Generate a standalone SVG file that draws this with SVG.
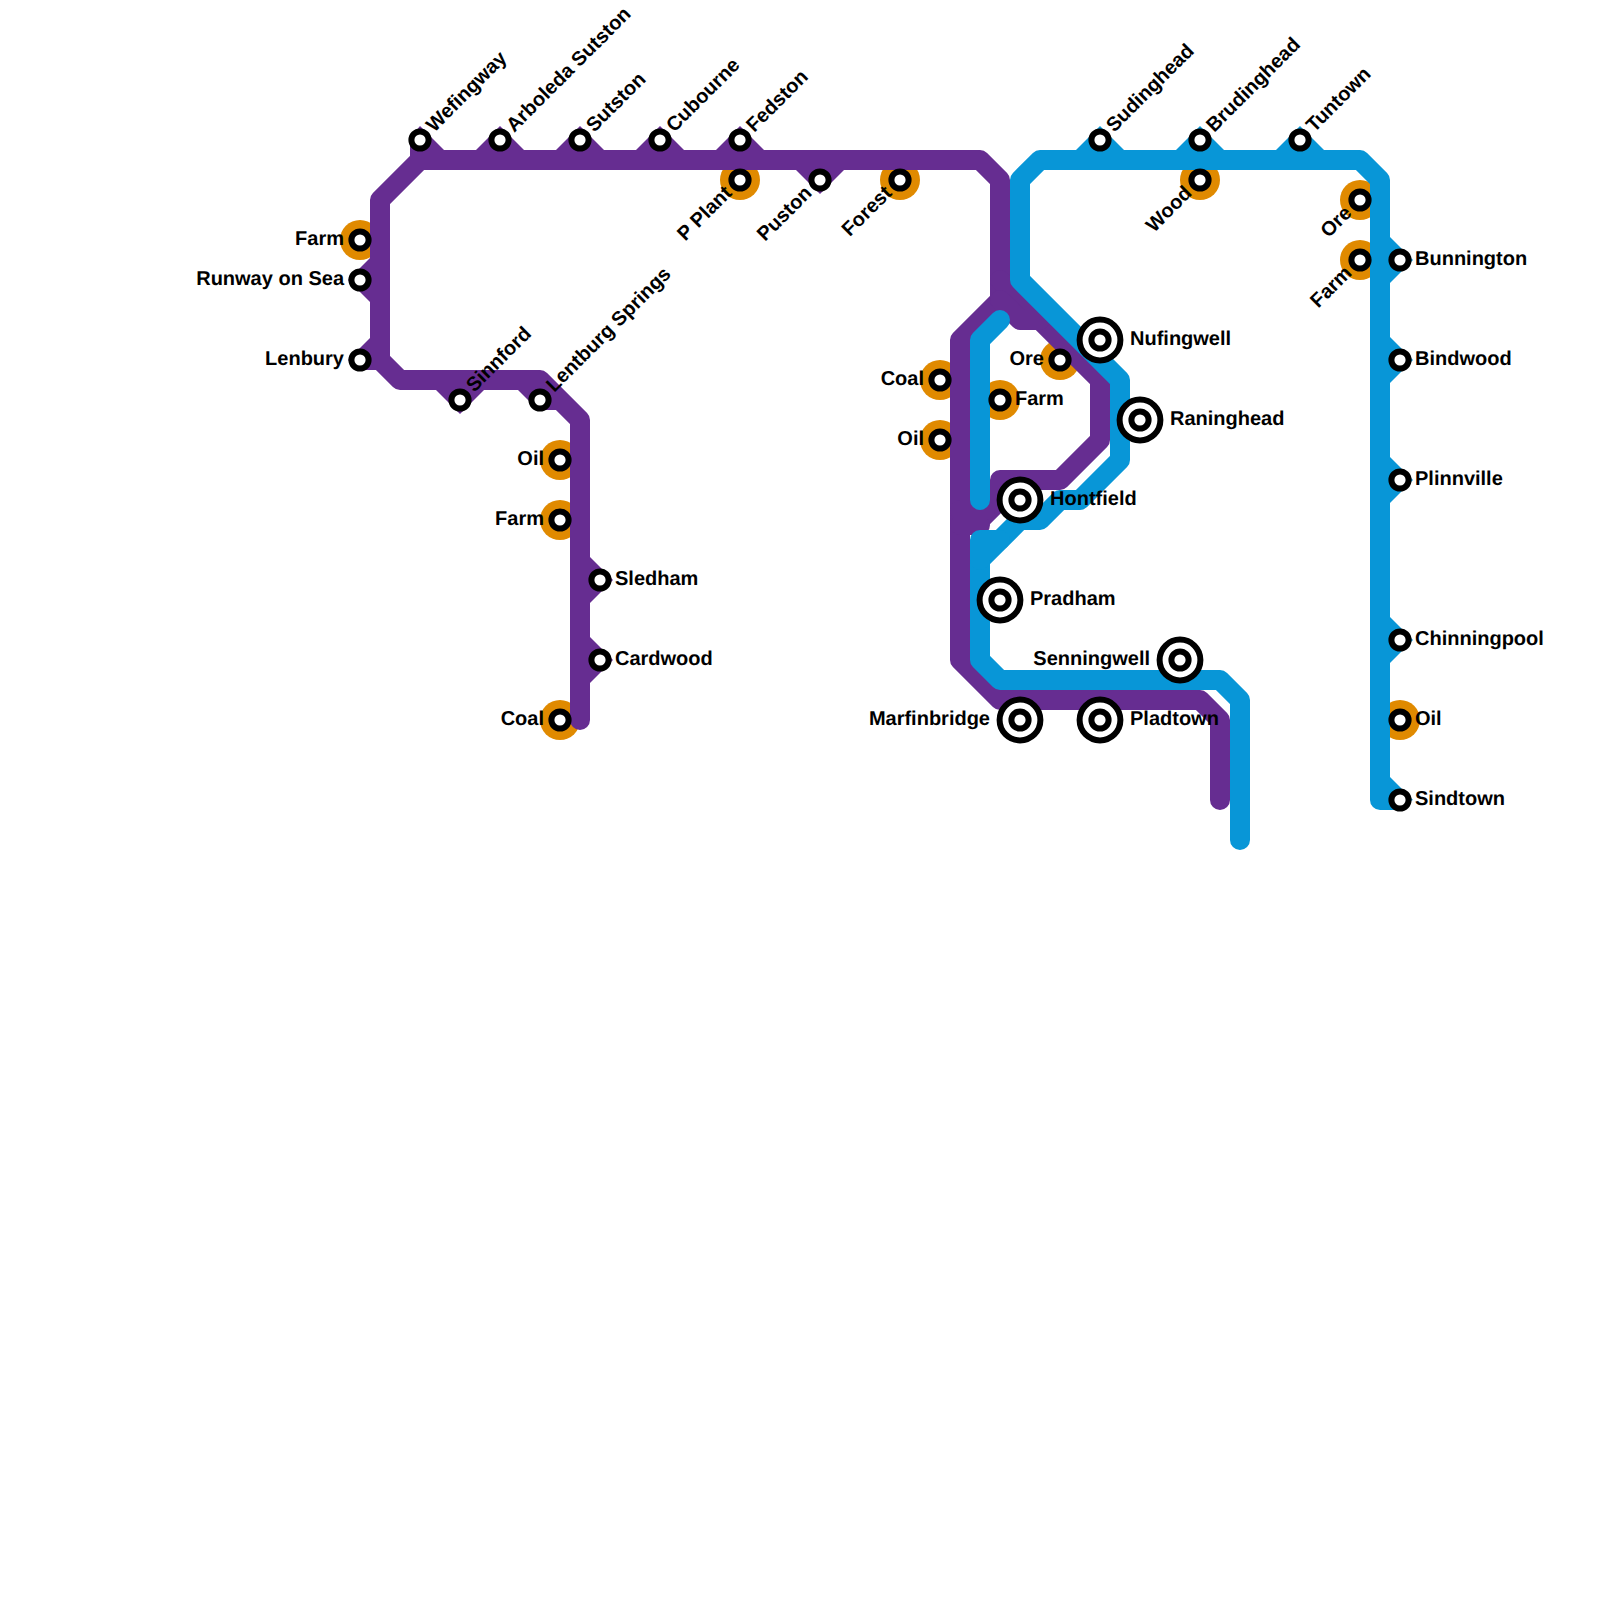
<svg xmlns="http://www.w3.org/2000/svg" width="1600" height="1600" viewBox="0 0 1600 1600">
<style>
.bg{fill:#fff}
.l{fill:none;stroke-width:20;stroke-linecap:round;stroke-linejoin:round}
.p{stroke:#662d91}.b{stroke:#0896d7}
.wp{fill:#662d91}.wb{fill:#0896d7}
.h{fill:#e08a00}
.r{fill:#fff;stroke:#000;stroke-width:6}
text{font-family:"Liberation Sans",Arial,sans-serif;font-weight:700;font-size:20px;fill:#000;text-rendering:geometricPrecision}
.e{text-anchor:end}
</style>
<rect class="bg" width="1600" height="1600"/>
<g id="halos">
<circle class="h" cx="360" cy="240" r="20"/>
<circle class="h" cx="560" cy="460" r="20"/>
<circle class="h" cx="560" cy="520" r="20"/>
<circle class="h" cx="560" cy="720" r="20"/>
<circle class="h" cx="740" cy="180" r="20"/>
<circle class="h" cx="900" cy="180" r="20"/>
<circle class="h" cx="940" cy="380" r="20"/>
<circle class="h" cx="940" cy="440" r="20"/>
<circle class="h" cx="1000" cy="400" r="20"/>
<circle class="h" cx="1060" cy="360" r="20"/>
<circle class="h" cx="1200" cy="180" r="20"/>
<circle class="h" cx="1360" cy="200" r="20"/>
<circle class="h" cx="1360" cy="260" r="20"/>
<circle class="h" cx="1400" cy="720" r="20"/>
</g>
<g id="connectors">
<g id="line-purple">
<polygon class="wp" points="410,138 420,126 444,150 444,170 410,170"/>
<polygon class="wp" points="476,150 500,126 524,150"/>
<polygon class="wp" points="556,150 580,126 604,150"/>
<polygon class="wp" points="636,150 660,126 684,150"/>
<polygon class="wp" points="716,150 740,126 764,150"/>
<polygon class="wp" points="796,170 820,194 844,170"/>
<polygon class="wp" points="348,280 372,256 372,304"/>
<polygon class="wp" points="348,360 372,336 380,370 358,370"/>
<polygon class="wp" points="436,390 484,390 460,414"/>
<polygon class="wp" points="516,388 538,410 560,410 560,388"/>
<polygon class="wp" points="613,580 588,555 588,605"/>
<polygon class="wp" points="613,660 588,635 588,685"/>
<path class="l p" d="M580 720V420L540 380H400L380 360V200L420 160H980L1000 180V300L960 340V660L1000 700H1200L1220 720V800"/>
<path class="l p" d="M1000 280L1100 380V440L1060 480H1000V500L980 520H960"/>
<path class="l p" d="M960 510H985M960 525H980"/>
<path class="l p" d="M1000 300L1020 320H1040"/>
</g>
<g id="line-blue">
<polygon class="wb" points="1076,150 1100,126 1124,150"/>
<polygon class="wb" points="1176,150 1200,126 1224,150"/>
<polygon class="wb" points="1276,150 1300,126 1324,150"/>
<polygon class="wb" points="1413,260 1388,235 1388,285"/>
<polygon class="wb" points="1413,360 1388,335 1388,385"/>
<polygon class="wb" points="1413,480 1388,455 1388,505"/>
<polygon class="wb" points="1413,640 1388,615 1388,665"/>
<polygon class="wb" points="1413,800 1388,775 1388,810"/>
<path class="l b" d="M1000 320L980 340V500"/>
<path class="l b" d="M1240 840V700L1220 680H1000L980 660V560L1020 520H1040L1060 500H1080L1120 460V380L1020 280V180L1040 160H1360L1380 180V800H1400"/>
<path class="l b" d="M980 560V540H1000"/>
</g>
</g>
<g id="n1"><circle class="r" cx="360" cy="240" r="8.6"/><text class="e" x="344" y="245">Farm</text></g>
<g id="n2"><circle class="r" cx="360" cy="280" r="8.6"/><text class="e" x="344" y="285">Runway on Sea</text></g>
<g id="n3"><circle class="r" cx="360" cy="360" r="8.6"/><text class="e" x="344" y="365">Lenbury</text></g>
<g id="n4"><circle class="r" cx="420" cy="140" r="8.6"/><text x="435" y="145" transform="rotate(-45 420 140)">Wefingway</text></g>
<g id="n5"><circle class="r" cx="500" cy="140" r="8.6"/><text x="515" y="145" transform="rotate(-45 500 140)">Arboleda Sutston</text></g>
<g id="n6"><circle class="r" cx="580" cy="140" r="8.6"/><text x="595" y="145" transform="rotate(-45 580 140)">Sutston</text></g>
<g id="n7"><circle class="r" cx="660" cy="140" r="8.6"/><text x="675" y="145" transform="rotate(-45 660 140)">Cubourne</text></g>
<g id="n8"><circle class="r" cx="740" cy="140" r="8.6"/><text x="755" y="145" transform="rotate(-45 740 140)">Fedston</text></g>
<g id="n9"><circle class="r" cx="740" cy="180" r="8.6"/><text class="e" x="725" y="185" transform="rotate(-45 740 180)">P Plant</text></g>
<g id="n10"><circle class="r" cx="820" cy="180" r="8.6"/><text class="e" x="805" y="185" transform="rotate(-45 820 180)">Puston</text></g>
<g id="n11"><circle class="r" cx="900" cy="180" r="8.6"/><text class="e" x="885" y="185" transform="rotate(-45 900 180)">Forest</text></g>
<g id="n12"><circle class="r" cx="460" cy="400" r="8.6"/><text x="475" y="405" transform="rotate(-45 460 400)">Sinnford</text></g>
<g id="n13"><circle class="r" cx="540" cy="400" r="8.6"/><text x="555" y="405" transform="rotate(-45 540 400)">Lentburg Springs</text></g>
<g id="n14"><circle class="r" cx="560" cy="460" r="8.6"/><text class="e" x="544" y="465">Oil</text></g>
<g id="n15"><circle class="r" cx="560" cy="520" r="8.6"/><text class="e" x="544" y="525">Farm</text></g>
<g id="n16"><circle class="r" cx="600" cy="580" r="8.6"/><text x="615" y="585">Sledham</text></g>
<g id="n17"><circle class="r" cx="600" cy="660" r="8.6"/><text x="615" y="665">Cardwood</text></g>
<g id="n18"><circle class="r" cx="560" cy="720" r="8.6"/><text class="e" x="544" y="725">Coal</text></g>
<g id="n19"><circle class="r" cx="940" cy="380" r="8.6"/><text class="e" x="924" y="385">Coal</text></g>
<g id="n20"><circle class="r" cx="940" cy="440" r="8.6"/><text class="e" x="924" y="445">Oil</text></g>
<g id="n21"><circle class="r" cx="1000" cy="400" r="8.6"/><text x="1015" y="405">Farm</text></g>
<g id="n22"><circle class="r" cx="1060" cy="360" r="8.6"/><text class="e" x="1044" y="365">Ore</text></g>
<g id="n23"><circle class="r" cx="1100" cy="340" r="20.4"/><circle class="r" cx="1100" cy="340" r="8.6"/><text x="1130" y="345">Nufingwell</text></g>
<g id="n24"><circle class="r" cx="1140" cy="420" r="20.4"/><circle class="r" cx="1140" cy="420" r="8.6"/><text x="1170" y="425">Raninghead</text></g>
<g id="n25"><circle class="r" cx="1020" cy="500" r="20.4"/><circle class="r" cx="1020" cy="500" r="8.6"/><text x="1050" y="505">Hontfield</text></g>
<g id="n26"><circle class="r" cx="1000" cy="600" r="20.4"/><circle class="r" cx="1000" cy="600" r="8.6"/><text x="1030" y="605">Pradham</text></g>
<g id="n27"><circle class="r" cx="1180" cy="660" r="20.4"/><circle class="r" cx="1180" cy="660" r="8.6"/><text class="e" x="1150" y="665">Senningwell</text></g>
<g id="n28"><circle class="r" cx="1020" cy="720" r="20.4"/><circle class="r" cx="1020" cy="720" r="8.6"/><text class="e" x="990" y="725">Marfinbridge</text></g>
<g id="n29"><circle class="r" cx="1100" cy="720" r="20.4"/><circle class="r" cx="1100" cy="720" r="8.6"/><text x="1130" y="725">Pladtown</text></g>
<g id="n30"><circle class="r" cx="1100" cy="140" r="8.6"/><text x="1115" y="145" transform="rotate(-45 1100 140)">Sudinghead</text></g>
<g id="n31"><circle class="r" cx="1200" cy="140" r="8.6"/><text x="1215" y="145" transform="rotate(-45 1200 140)">Brudinghead</text></g>
<g id="n32"><circle class="r" cx="1300" cy="140" r="8.6"/><text x="1315" y="145" transform="rotate(-45 1300 140)">Tuntown</text></g>
<g id="n33"><circle class="r" cx="1200" cy="180" r="8.6"/><text class="e" x="1185" y="185" transform="rotate(-45 1200 180)">Wood</text></g>
<g id="n34"><circle class="r" cx="1360" cy="200" r="8.6"/><text class="e" x="1345" y="205" transform="rotate(-45 1360 200)">Ore</text></g>
<g id="n35"><circle class="r" cx="1360" cy="260" r="8.6"/><text class="e" x="1345" y="265" transform="rotate(-45 1360 260)">Farm</text></g>
<g id="n36"><circle class="r" cx="1400" cy="260" r="8.6"/><text x="1415" y="265">Bunnington</text></g>
<g id="n37"><circle class="r" cx="1400" cy="360" r="8.6"/><text x="1415" y="365">Bindwood</text></g>
<g id="n38"><circle class="r" cx="1400" cy="480" r="8.6"/><text x="1415" y="485">Plinnville</text></g>
<g id="n39"><circle class="r" cx="1400" cy="640" r="8.6"/><text x="1415" y="645">Chinningpool</text></g>
<g id="n40"><circle class="r" cx="1400" cy="720" r="8.6"/><text x="1415" y="725">Oil</text></g>
<g id="n41"><circle class="r" cx="1400" cy="800" r="8.6"/><text x="1415" y="805">Sindtown</text></g>
</svg>
